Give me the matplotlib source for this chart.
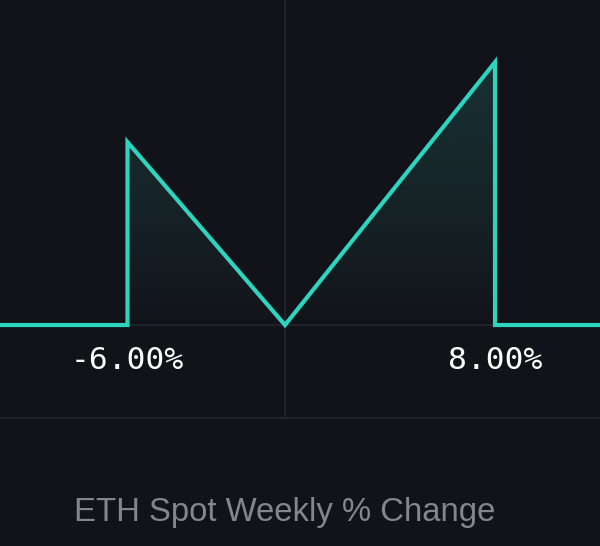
import matplotlib
matplotlib.use("Agg")
import matplotlib.pyplot as plt
import numpy as np
from matplotlib.patches import Polygon

# payoff profile, x in % weekly change
x_points = [-10.857, -6.0, -6.0, 0.0, 8.0, 8.0, 12.0]
payoff = [0.0, 0.0, 6.0, 0.0, 8.62, 0.0, 0.0]
strikes = [-6.0, 8.0]
title = "ETH Spot Weekly % Change"

bg = "#121318"
teal = "#2dd4bf"
grid = "#25262b"

fig = plt.figure(figsize=(6, 5.46), dpi=100, facecolor=bg)
ax = fig.add_axes([0, 1 - 418 / 546, 1, 418 / 546])
ax.set_facecolor(bg)
ymin, ymax = -3.05, 10.66
ax.set_xlim(x_points[0], x_points[-1])
ax.set_ylim(ymin, ymax)
for s in ax.spines.values():
    s.set_visible(False)
ax.set_xticks([])
ax.set_yticks([])

# grid lines
ax.axhline(0, color=grid, lw=1.2, zorder=1)
ax.axvline(0, color=grid, lw=1.2, zorder=1)
fig.add_artist(plt.Line2D([0, 1], [1 - 418 / 546] * 2, color=grid, lw=1.2))

# gradient fill under the curve
top = max(payoff)
grad = np.linspace(0, 1, 256).reshape(-1, 1)
rgba = np.zeros((256, 1, 4))
rgba[..., :3] = matplotlib.colors.to_rgb("#1f4a4a")
rgba[..., 3] = grad[:, :] ** 0.8 * 0.55
im = ax.imshow(rgba, extent=[x_points[0], x_points[-1], 0, top], origin="lower",
               aspect="auto", zorder=2)
poly = Polygon(np.column_stack([x_points, payoff]), closed=True, transform=ax.transData)
im.set_clip_path(poly)

ax.plot(x_points, payoff, color=teal, lw=3.0, solid_joinstyle="miter", zorder=3)

for s in strikes:
    ax.text(s, -1.15, f"{s:.2f}%", color="white", ha="center", va="center",
            fontsize=22.5, family="DejaVu Sans Mono", fontweight="medium")

fig.text(285 / 600, 1 - 512 / 546, title, color="#85868c", ha="center", va="center",
         fontsize=23.7, family="Liberation Sans")

fig.savefig("out.png", dpi=100, facecolor=bg)
